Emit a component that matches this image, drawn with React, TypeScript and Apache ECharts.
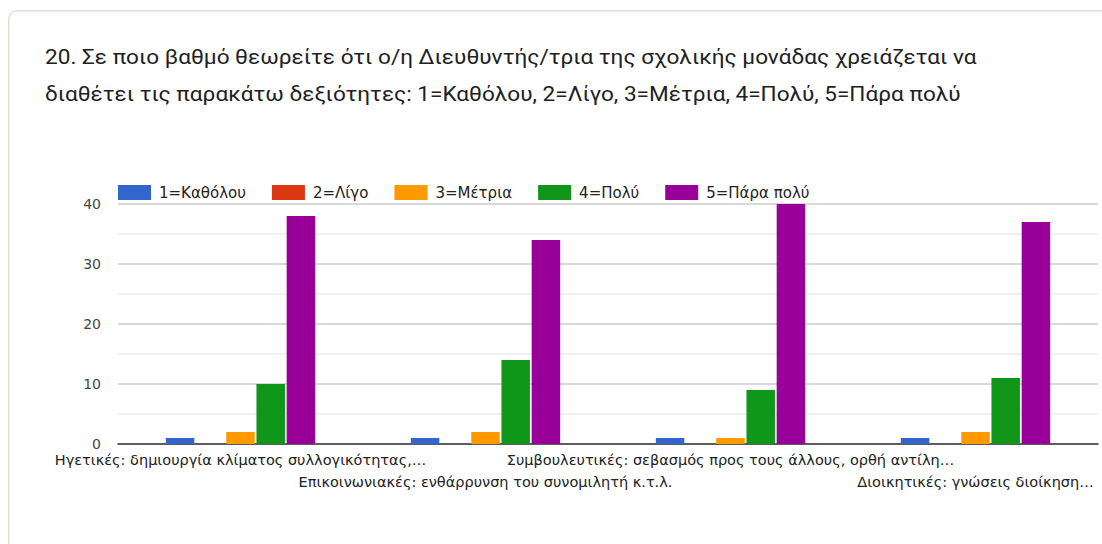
import React, { useEffect, useRef } from "react";
import * as echarts from "echarts";

const titleLines = [
  "20. Σε ποιο βαθμό θεωρείτε ότι ο/η Διευθυντής/τρια της σχολικής μονάδας χρειάζεται να",
  "διαθέτει τις παρακάτω δεξιότητες: 1=Καθόλου, 2=Λίγο, 3=Μέτρια, 4=Πολύ, 5=Πάρα πολύ",
];

const categories = [
  "Ηγετικές: δημιουργία κλίματος συλλογικότητας,…",
  "Επικοινωνιακές: ενθάρρυνση του συνομιλητή κ.τ.λ.",
  "Συμβουλευτικές: σεβασμός προς τους άλλους, ορθή αντίλη…",
  "Διοικητικές: γνώσεις διοίκηση…",
];

const seriesNames = ["1=Καθόλου", "2=Λίγο", "3=Μέτρια", "4=Πολύ", "5=Πάρα πολύ"];
const seriesColors = ["#3366cc", "#dc3912", "#ff9900", "#109618", "#990099"];

const katholou = [1, 1, 1, 1];
const ligo = [0, 0, 0, 0];
const metria = [2, 2, 1, 2];
const poly = [10, 14, 9, 11];
const paraPoly = [38, 34, 40, 37];

const seriesValues = [katholou, ligo, metria, poly, paraPoly];

const yTicks = [0, 10, 20, 30, 40];

export default function App() {
  const ref = useRef<HTMLDivElement>(null);

  useEffect(() => {
    if (!ref.current) return;
    const chart = echarts.init(ref.current, undefined, { renderer: "svg" });
    const chartFont = "'DejaVu Sans', sans-serif";

    chart.setOption({
      animation: false,
      backgroundColor: "#ffffff",
      graphic: [
        {
          type: "rect",
          left: 8,
          top: 10,
          shape: { width: 1110, height: 560, r: 8 },
          style: { fill: "#ffffff", stroke: "#e3e0da", lineWidth: 1.5 },
          z: -10,
        },
        {
          type: "text",
          x: 45,
          y: 38,
          scaleX: 1.13,
          style: {
            text: titleLines.join("\n"),
            font: "20px Roboto, 'Noto Sans', sans-serif",
            fill: "#202124",
            lineHeight: 37,
          },
        },
      ],
      legend: {
        left: 113,
        top: 180,
        icon: "rect",
        itemWidth: 33,
        itemHeight: 15,
        itemGap: 26,
        textStyle: {
          fontFamily: chartFont,
          fontSize: 15,
          color: "#222222",
          padding: [0, 0, 0, 3],
        },
        data: seriesNames,
      },
      grid: { left: 118, right: 4, top: 204, bottom: 100, containLabel: false },
      xAxis: {
        type: "category",
        data: categories,
        axisTick: { show: false },
        axisLine: { lineStyle: { color: "#333333", width: 1.5 } },
        axisLabel: {
          interval: 0,
          hideOverlap: false,
          margin: 5,
          fontFamily: chartFont,
          fontSize: 14.5,
          color: "#222222",
          lineHeight: 22,
          formatter: (v: string, i: number) => (i % 2 === 1 ? "\n" + v : v),
        },
      },
      yAxis: {
        type: "value",
        min: yTicks[0],
        max: yTicks[yTicks.length - 1],
        interval: 10,
        axisLine: { show: false },
        axisTick: { show: false },
        axisLabel: {
          margin: 17,
          fontFamily: chartFont,
          fontSize: 14,
          color: "#444444",
        },
        splitLine: { lineStyle: { color: "#cccccc", width: 1.5 } },
        minorTick: { show: false, splitNumber: 2 },
        minorSplitLine: { show: true, lineStyle: { color: "#ebebeb", width: 1.5 } },
      },
      series: seriesNames.map((name, k) => ({
        name,
        type: "bar",
        data: seriesValues[k],
        barWidth: 28.5,
        barGap: "6%",
        itemStyle: { color: seriesColors[k] },
      })),
    });

    return () => chart.dispose();
  }, []);

  return (
    <div
      ref={ref}
      style={{ position: "absolute", left: 0, top: 0, width: 1102, height: 544 }}
    />
  );
}
